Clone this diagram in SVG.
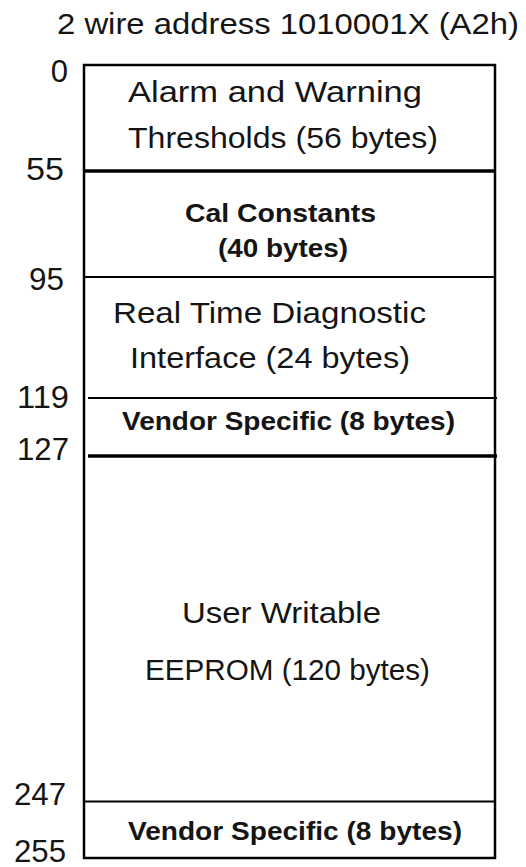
<svg xmlns="http://www.w3.org/2000/svg" width="526" height="867" viewBox="0 0 526 867">
<style>
text{font-family:"Liberation Sans",Arial,sans-serif;fill:#151515}
.t{font-size:30px}
.b{font-size:26px;font-weight:bold}
.n{font-size:31px;text-anchor:end}
.ln{stroke:#000;fill:none}
</style>
<rect width="526" height="867" fill="#fff"/>
<text id="title" class="t" x="57" y="34" font-size="31" textLength="462" lengthAdjust="spacingAndGlyphs">2 wire address 1010001X (A2h)</text>
<g id="frame">
<rect class="ln" x="84" y="65" width="411" height="793" stroke-width="2.5"/>
<line class="ln" x1="84" y1="171" x2="495" y2="171" stroke-width="3.5"/>
<line class="ln" x1="84" y1="277" x2="495" y2="277" stroke-width="2"/>
<line class="ln" x1="88" y1="398" x2="497" y2="398" stroke-width="2"/>
<line class="ln" x1="88" y1="456" x2="497" y2="456" stroke-width="3.5"/>
<line class="ln" x1="84" y1="801.5" x2="495" y2="801.5" stroke-width="2"/>
</g>
<g id="addresses">
<text class="n" x="68" y="82" font-size="32">0</text>
<text class="n" x="64" y="180" textLength="38" lengthAdjust="spacingAndGlyphs">55</text>
<text class="n" x="64" y="290" textLength="35" lengthAdjust="spacingAndGlyphs">95</text>
<text class="n" x="69" y="408" textLength="52" lengthAdjust="spacingAndGlyphs">119</text>
<text class="n" x="69" y="460" textLength="52" lengthAdjust="spacingAndGlyphs">127</text>
<text class="n" x="66" y="805" textLength="52" lengthAdjust="spacingAndGlyphs">247</text>
<text class="n" x="66" y="862" textLength="52" lengthAdjust="spacingAndGlyphs">255</text>
</g>
<g id="alarm">
<text class="t" x="128" y="102" textLength="294" lengthAdjust="spacingAndGlyphs">Alarm and Warning</text>
<text class="t" x="128" y="148" textLength="310" lengthAdjust="spacingAndGlyphs">Thresholds (56 bytes)</text>
</g>
<g id="cal">
<text class="b" x="185" y="222" textLength="191" lengthAdjust="spacingAndGlyphs">Cal Constants</text>
<text class="b" x="218" y="257" textLength="130" lengthAdjust="spacingAndGlyphs">(40 bytes)</text>
</g>
<g id="diag">
<text class="t" x="113" y="323" textLength="313" lengthAdjust="spacingAndGlyphs">Real Time Diagnostic</text>
<text class="t" x="130" y="368" textLength="280" lengthAdjust="spacingAndGlyphs">Interface (24 bytes)</text>
</g>
<g id="vendor1">
<text class="b" x="122" y="430" font-size="25" textLength="333" lengthAdjust="spacingAndGlyphs">Vendor Specific (8 bytes)</text>
</g>
<g id="user">
<text class="t" x="182" y="623" textLength="199" lengthAdjust="spacingAndGlyphs">User Writable</text>
<text class="t" x="145" y="680" textLength="285" lengthAdjust="spacingAndGlyphs">EEPROM (120 bytes)</text>
</g>
<g id="vendor2">
<text class="b" x="128" y="840" font-size="25" textLength="334" lengthAdjust="spacingAndGlyphs">Vendor Specific (8 bytes)</text>
</g>
<g id="connectors"/>
</svg>
